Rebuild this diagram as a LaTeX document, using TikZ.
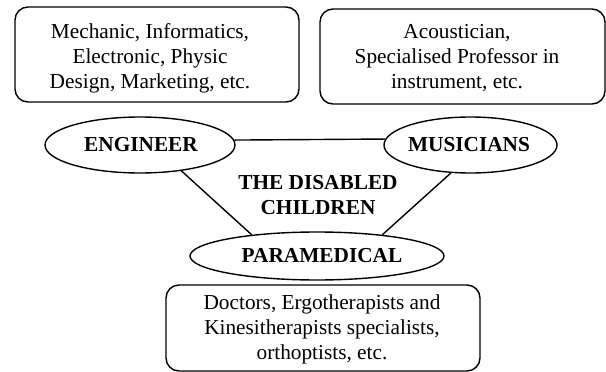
\documentclass[tikz,border=0pt]{standalone}
\usepackage{fontspec}
\setmainfont{Liberation Serif}
\usetikzlibrary{shapes.geometric}
\tikzset{
 box/.style={draw,line width=1.4pt,rounded corners=13pt},
 boxtext/.style={align=center,inner sep=0pt,font=\fontsize{21.3}{25}\selectfont},
 oval/.style={draw,ellipse,line width=1.4pt,inner sep=0pt},
 ovaltext/.style={inner sep=0pt,font=\fontsize{21.3}{25}\selectfont\bfseries},
 link/.style={line width=1.4pt}
}
\begin{document}
\begin{tikzpicture}[x=1pt,y=-1pt]
\useasboundingbox (0,0) rectangle (606,372);
\node[box,minimum width=284,minimum height=95] (a) at (157,54.5) {};
\node[boxtext] (at) at (150,58) {Mechanic, Informatics,\\Electronic, Physic\\Design, Marketing, etc.};
\node[box,minimum width=285,minimum height=95] (b) at (462.5,56.5) {};
\node[boxtext] (bt) at (457,58) {Acoustician,\\Specialised Professor in\\instrument, etc.};
\node[box,minimum width=314,minimum height=86] (c) at (323,328) {};
\node[boxtext] (ct) at (322,329) {Doctors, Ergotherapists and\\Kinesitherapists specialists,\\orthoptists, etc.};
\node[oval,minimum width=190,minimum height=56] (e) at (140,145) {};
\node[ovaltext] (et) at (141,145) {ENGINEER};
\node[oval,minimum width=173,minimum height=56] (m) at (470.5,145) {};
\node[ovaltext] (mt) at (469,145) {MUSICIANS};
\node[oval,minimum width=254,minimum height=48] (p) at (317,256) {};
\node[ovaltext] (pt) at (322,256) {PARAMEDICAL};
\node[ovaltext,align=center] (t) at (318,195.5) {THE DISABLED\\CHILDREN};
\draw[link] (e.3) -- (m.176);
\draw[link] (e.-32) -- (p.162);
\draw[link] (m.235) -- (p.18);
\end{tikzpicture}
\end{document}
